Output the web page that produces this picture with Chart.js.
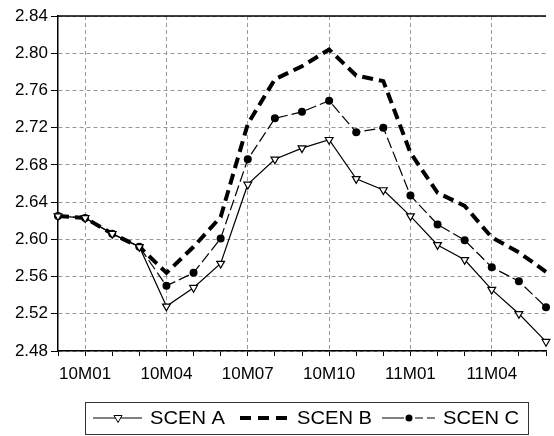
<!DOCTYPE html>
<html>
<head>
<meta charset="utf-8">
<script src="https://cdn.jsdelivr.net/npm/chart.js@4"></script>
<style>
  html, body { margin: 0; padding: 0; background: #fff; }
  canvas { display: block; }
</style>
</head>
<body>
<canvas id="scenChart" width="554" height="436"></canvas>
<script>
// monthly, 2009M12 .. 2011M06
const months = ['09M12', '10M01', '10M02', '10M03', '10M04', '10M05', '10M06', '10M07', '10M08', '10M09',
  '10M10', '10M11', '10M12', '11M01', '11M02', '11M03', '11M04', '11M05', '11M06'];
const shownLabels = ['10M01', '10M04', '10M07', '10M10', '11M01', '11M04'];

const scenA = [2.625, 2.623, 2.606, 2.592, 2.528, 2.548, 2.574, 2.659, 2.686, 2.698,
  2.707, 2.665, 2.653, 2.625, 2.594, 2.578, 2.546, 2.520, 2.490];
const scenB = [2.625, 2.623, 2.606, 2.592, 2.564, 2.592, 2.624, 2.724, 2.772, 2.786,
  2.804, 2.776, 2.770, 2.693, 2.650, 2.636, 2.602, 2.586, 2.565];
const scenC = [2.625, 2.623, 2.606, 2.592, 2.550, 2.564, 2.601, 2.686, 2.730, 2.737,
  2.749, 2.715, 2.720, 2.647, 2.616, 2.599, 2.570, 2.555, 2.527];

const yMin = 2.48, yMax = 2.84, yStep = 0.04;

const FONT = "'Liberation Sans', Arial, sans-serif";
const gridGray = '#999999';

// top frame line + legend box drawn by hand
const framePlugin = {
  id: 'frame',
  afterDraw(chart) {
    const ctx = chart.ctx;
    const a = chart.chartArea;
    ctx.save();
    ctx.strokeStyle = '#000';
    ctx.lineWidth = 1.5;
    ctx.beginPath();
    ctx.moveTo(a.left, a.top);
    ctx.lineTo(a.right, a.top);
    ctx.stroke();

    // legend
    const ly = 418;
    ctx.lineWidth = 1;
    ctx.strokeStyle = '#333';
    ctx.strokeRect(85.5, 402.5, 443, 32);

    ctx.strokeStyle = '#000';
    // SCEN A
    ctx.beginPath();
    ctx.moveTo(93, ly); ctx.lineTo(142, ly);
    ctx.stroke();
    ctx.beginPath();
    ctx.moveTo(118 - 4, ly - 2.5); ctx.lineTo(118 + 4, ly - 2.5); ctx.lineTo(118, ly + 4.5);
    ctx.closePath();
    ctx.fillStyle = '#fff'; ctx.fill(); ctx.stroke();
    // SCEN B
    ctx.lineWidth = 4;
    ctx.setLineDash([11, 7]);
    ctx.beginPath();
    ctx.moveTo(240, ly); ctx.lineTo(289, ly);
    ctx.stroke();
    // SCEN C
    ctx.lineWidth = 1.2;
    ctx.setLineDash([]);
    ctx.beginPath();
    ctx.moveTo(382, ly); ctx.lineTo(404, ly);
    ctx.moveTo(415, ly); ctx.lineTo(423, ly);
    ctx.moveTo(427, ly); ctx.lineTo(435, ly);
    ctx.stroke();
    ctx.fillStyle = '#000';
    ctx.beginPath();
    ctx.arc(409, ly, 3.5, 0, Math.PI * 2);
    ctx.fill();

    ctx.font = '18px ' + FONT;
    ctx.textBaseline = 'middle';
    ctx.fillStyle = '#000';
    [['SCEN A', 150], ['SCEN B', 297], ['SCEN C', 443]].forEach(([t, x]) => {
      ctx.save();
      ctx.translate(x, ly + 1);
      ctx.scale(1.12, 1);
      ctx.fillText(t, 0, 0);
      ctx.restore();
    });
    ctx.restore();
  }
};

const ctx = document.getElementById('scenChart').getContext('2d');
new Chart(ctx, {
  type: 'line',
  data: {
    labels: months,
    datasets: [
      {
        label: 'SCEN A',
        data: scenA,
        borderColor: '#000',
        borderWidth: 1.2,
        pointStyle: 'triangle',
        rotation: 180,
        pointRadius: 4.5,
        pointBackgroundColor: '#fff',
        pointBorderColor: '#000',
        pointBorderWidth: 1.2,
        tension: 0
      },
      {
        label: 'SCEN B',
        data: scenB,
        borderColor: '#000',
        borderWidth: 4,
        borderDash: [11, 6],
        pointRadius: 0,
        tension: 0
      },
      {
        label: 'SCEN C',
        data: scenC,
        borderColor: '#000',
        borderWidth: 1.2,
        borderDash: [11, 4],
        pointStyle: 'circle',
        pointRadius: 4,
        pointBackgroundColor: '#000',
        pointBorderColor: '#000',
        pointBorderWidth: 0,
        tension: 0
      }
    ]
  },
  options: {
    responsive: false,
    animation: false,
    layout: { padding: { top: 16, left: 0, right: 0, bottom: 0 } },
    plugins: {
      legend: { display: false },
      tooltip: { enabled: false }
    },
    scales: {
      x: {
        type: 'category',
        offset: false,
        afterFit(scale) { scale.height = 85; },
        grid: {
          color: c => (c.index > 0 && shownLabels.includes(months[c.index])) ? gridGray : 'rgba(0,0,0,0)',
          lineWidth: 1,
          drawTicks: true,
          tickLength: 5,
          tickColor: '#000',
          tickWidth: 1
        },
        border: { display: true, color: '#000', width: 1.5, dash: [4, 3] },
        ticks: {
          autoSkip: false,
          maxRotation: 0,
          padding: 8,
          color: '#000',
          font: { family: FONT, size: 17 },
          callback(value, index) {
            const lab = months[index];
            return shownLabels.includes(lab) ? lab : '';
          }
        }
      },
      y: {
        min: yMin,
        max: yMax,
        afterFit(scale) { scale.width = 58; },
        grid: {
          color: gridGray,
          lineWidth: 1,
          drawTicks: true,
          tickLength: 7,
          tickColor: '#000',
          tickWidth: 1
        },
        border: { display: true, color: '#000', width: 1.5, dash: [4, 3] },
        ticks: {
          stepSize: yStep,
          padding: 3,
          color: '#000',
          font: { family: FONT, size: 17 },
          callback: v => Number(v).toFixed(2)
        }
      }
    }
  },
  plugins: [framePlugin]
});
</script>
</body>
</html>
